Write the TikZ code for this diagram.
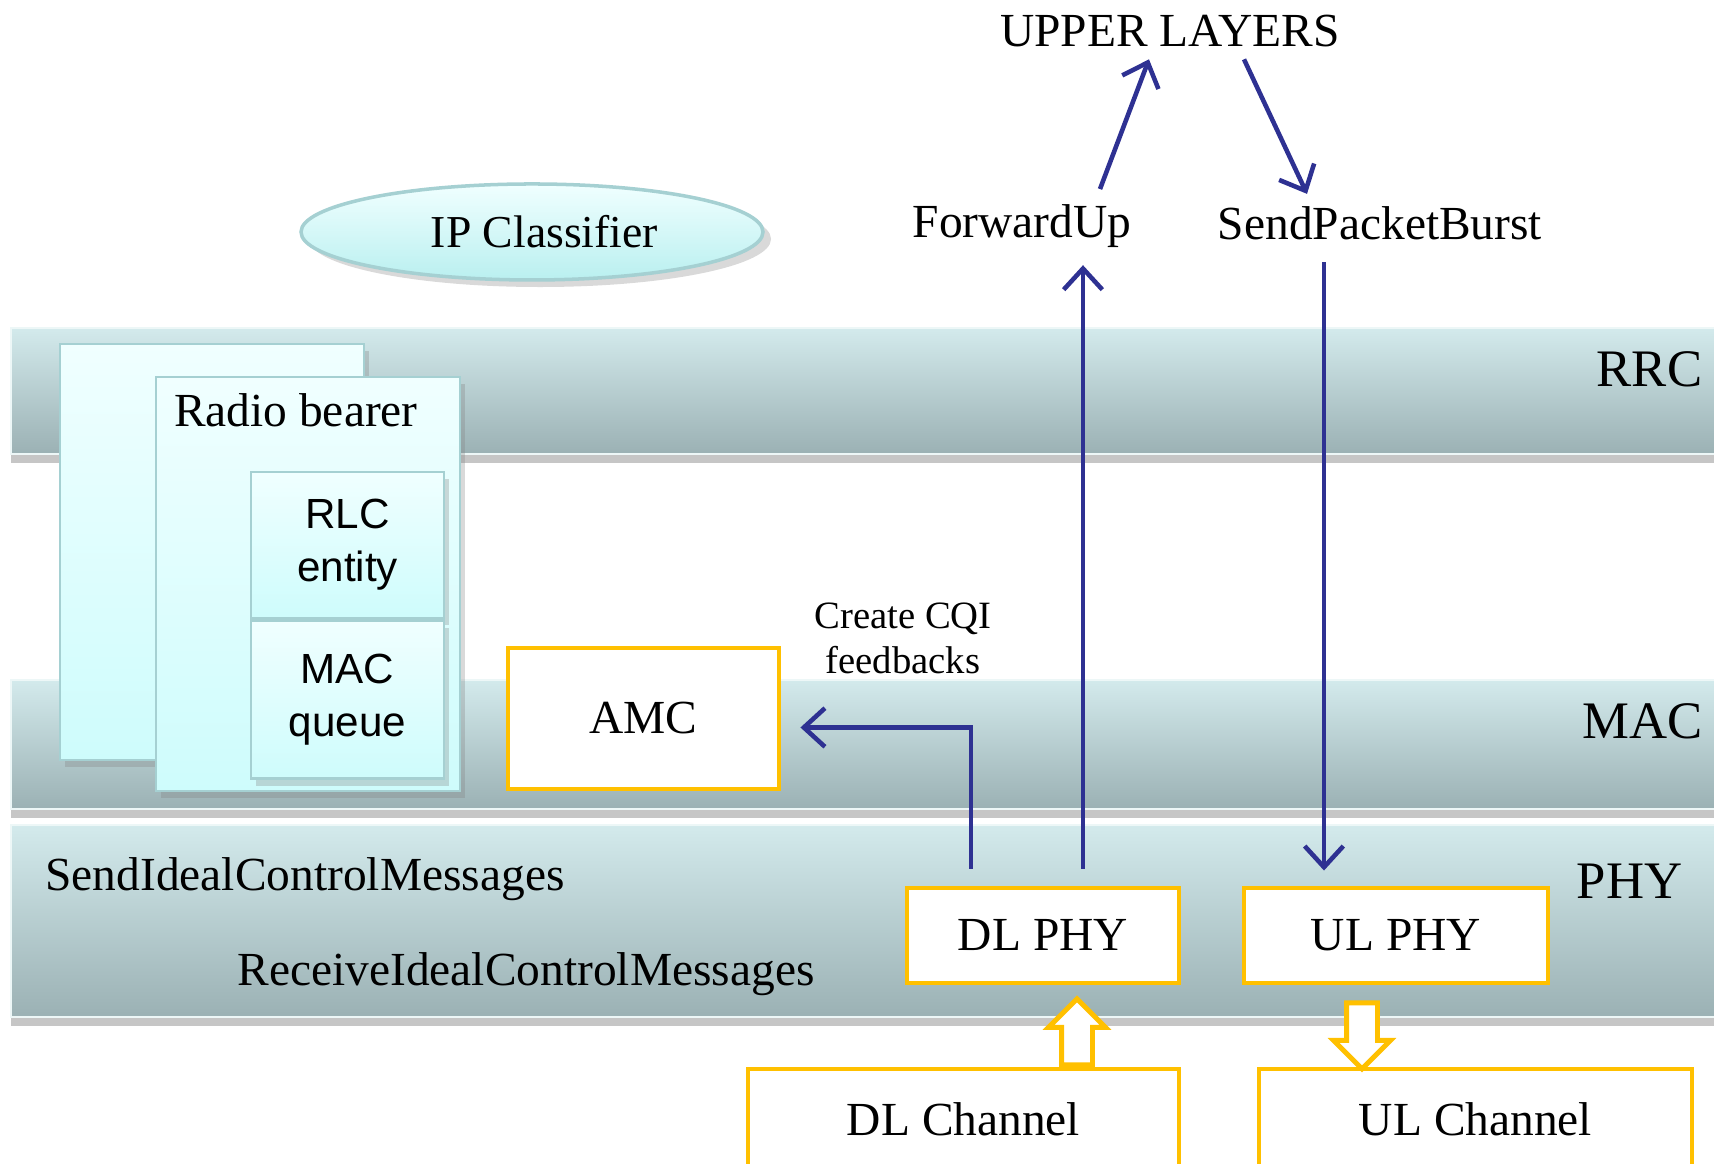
\documentclass[tikz,border=0pt]{standalone}
\usepackage{fontspec}
\setmainfont{Liberation Serif}
\setsansfont{Liberation Sans}
\usepackage{tikz}
\usetikzlibrary{positioning,shadows,shapes.geometric,shapes.arrows,arrows.meta}

\definecolor{gold}{RGB}{255,192,0}
\definecolor{flowblue}{RGB}{46,49,146}
\definecolor{bandtop}{RGB}{211,234,236}
\definecolor{bandmid}{RGB}{194,219,222}
\definecolor{bandbot}{RGB}{155,177,180}
\definecolor{boxtop}{RGB}{240,255,255}
\definecolor{boxbot}{RGB}{206,252,252}
\definecolor{boxline}{RGB}{165,208,210}

\begin{document}
\begin{tikzpicture}[>={Straight Barb[length=6pt,width=11pt]},
    band/.style={rectangle, inner sep=0pt, top color=bandtop, middle color=bandmid, bottom color=bandbot,
        draw=white!60!bandtop, drop shadow={opacity=0.45, shadow xshift=0pt, shadow yshift=-2.5pt}},
    layer/.style={inner sep=0pt, anchor=east, font=\fontsize{15}{18}\selectfont},
    bearer/.style={rectangle, top color=boxtop, bottom color=boxbot, draw=boxline, line width=0.8pt,
        drop shadow={opacity=0.3, shadow xshift=1.5pt, shadow yshift=-2pt}},
    sansbox/.style={align=center, font=\sffamily\fontsize{12}{15}\selectfont},
    goldbox/.style={rectangle, draw=gold, line width=1.4pt, fill=white},
    txt/.style={font=\fontsize{13.5}{16}\selectfont},
    flow/.style={draw=flowblue, line width=1.3pt},
    hollow/.style={single arrow, draw=gold, line width=1.4pt, fill=white, minimum height=6.6mm,
        inner xsep=0pt, inner ysep=1.3mm, single arrow head extend=1.3mm}]
    \useasboundingbox (0,0) rectangle (17.14,11.64);

    % layers
    \node[band, minimum width=17.2cm, minimum height=1.26cm] (rrc) at (8.71,7.73) {};
    \node[band, minimum width=17.2cm, minimum height=1.29cm] (mac) at (8.71,4.195) {};
    \node[band, minimum width=17.2cm, minimum height=1.92cm] (phy) at (8.71,2.43) {};
    \node[layer] (rrclabel) at (17.03,7.95) {RRC};
    \node[layer] (maclabel) at (17.03,4.43) {MAC};
    \node[layer] (phylabel) at (16.83,2.83) {PHY};

    \node[ellipse, minimum width=4.62cm, minimum height=0.96cm, top color=boxtop, bottom color=boxbot!90!teal,
        draw=boxline, line width=1pt, drop shadow={opacity=0.3, shadow yshift=-2pt},
        font=\fontsize{13}{16}\selectfont] (ipc) at (5.32,9.32) {\hspace{0.25cm}IP Classifier};

    % radio bearers
    \node[bearer, minimum width=3.04cm, minimum height=4.16cm] (rbback) at (2.12,6.12) {};
    \node[bearer, minimum width=3.04cm, minimum height=4.14cm] (rb) at (3.08,5.80) {};
    \node[txt, below right=0.06cm and 0.07cm of rb.north west] (rbtext) {Radio bearer};
    \node[bearer, sansbox, minimum width=1.93cm, minimum height=1.46cm] (rlc) at (3.475,6.19) {RLC\\entity};
    \node[bearer, sansbox, minimum width=1.93cm, minimum height=1.58cm, below=0pt of rlc] (macq) {MAC\\queue};

    % blocks
    \node[goldbox, txt, minimum width=2.71cm, minimum height=1.41cm] (amc) at (6.435,4.455) {AMC};
    \node[goldbox, txt, minimum width=2.72cm, minimum height=0.95cm] (dlphy) at (10.43,2.285) {DL PHY};
    \node[goldbox, txt, minimum width=3.04cm, minimum height=0.95cm] (ulphy) at (13.96,2.285) {UL PHY};
    \node[goldbox, txt, minimum width=4.31cm, minimum height=1.0cm] (dlch) at (9.635,0.45) {DL Channel};
    \node[goldbox, txt, minimum width=4.33cm, minimum height=1.0cm] (ulch) at (14.755,0.45) {UL Channel};

    \node[txt] (upper) at (11.70,11.33) {UPPER LAYERS};
    \node[txt] (fwd) at (10.22,9.38) {ForwardUp};
    \node[txt] (spb) at (13.80,9.41) {SendPacketBurst};
    \node[txt, anchor=west] (sendctrl) at (0.33,2.85) {SendIdealControlMessages};
    \node[txt, anchor=west] (recvctrl) at (2.25,1.90) {ReceiveIdealControlMessages};
    \node[align=center, font=\fontsize{11}{12.8}\selectfont] (cqi) at (9.03,5.26) {Create CQI\\feedbacks};

    % connectors
    \draw[flow,->] ([xshift=7.8mm,yshift=0.3mm]fwd.north) -- ([xshift=-2.1mm]upper.south);
    \draw[flow,->] ([xshift=7.4mm]upper.south) -- ([xshift=-7.3mm]spb.north);
    \coordinate (dlout) at ([xshift=4mm,yshift=1.7mm]dlphy.north);
    \draw[flow,->,shorten >=1.5pt] (dlout) -- (dlout |- fwd.south);
    \coordinate (ulin) at ([xshift=-5.6mm,yshift=-1mm]spb.south);
    \draw[flow,->,shorten >=1.5mm] (ulin) -- (ulin |- ulphy.north);
    \coordinate (cqiout) at ([xshift=-7.2mm,yshift=1.7mm]dlphy.north);
    \draw[flow,->] (cqiout) |- ([xshift=1.9mm,yshift=-0.9mm]amc.east);

    \node[hollow, rotate=90, anchor=tip] (dlup) at ([xshift=3.4mm,yshift=-1mm]dlphy.south) {};
    \node[hollow, rotate=-90, anchor=tail] (uldown) at ([xshift=-3.4mm,yshift=-1.5mm]ulphy.south) {};
\end{tikzpicture}
\end{document}
